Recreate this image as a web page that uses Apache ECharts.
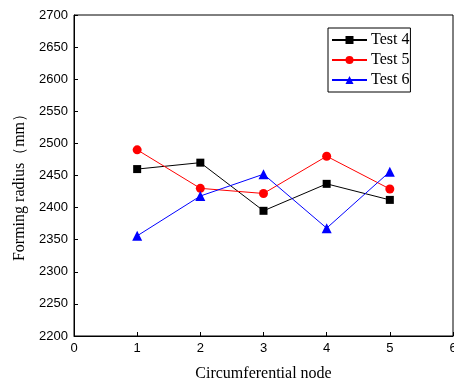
<!DOCTYPE html>
<html>
<head>
<meta charset="utf-8">
<script src="https://cdn.jsdelivr.net/npm/echarts@6/dist/echarts.min.js"></script>
<style>html,body{margin:0;padding:0;background:#fff}#c{width:454px;height:383px}</style>
</head>
<body>
<div id="c"></div>
<script>
const nodes=[1,2,3,4,5];
const test4=[2460,2470,2395,2437,2412];
const test5=[2490,2430,2422,2480,2429];
const test6=[2356,2418,2452,2368,2456];
const SANS="'Liberation Sans',Arial,sans-serif",SERIF="'Liberation Serif','Times New Roman',serif";

const pts=v=>nodes.map((n,i)=>[n,v[i]]);
const chart=echarts.init(document.getElementById('c'));
const axisCommon={axisLine:{show:true,lineStyle:{color:'#000',width:1}},axisTick:{show:true,inside:true,length:4,lineStyle:{color:'#000'}},splitLine:{show:false}};
chart.setOption({
  animation:false,
  grid:{left:74,top:15,width:379,height:321,show:true,borderColor:'#000',borderWidth:1,outerBoundsMode:'none',containLabel:false},
  legend:{orient:'vertical',left:328,top:28,padding:[4,1,4,3],itemGap:4,itemWidth:35,itemHeight:10,
    borderColor:'#000',borderWidth:1,textStyle:{fontFamily:SERIF,fontSize:16,color:'#000',padding:[0,0,0,-1]},
    data:['Test 4','Test 5','Test 6']},
  xAxis:Object.assign({type:'value',min:0,max:6,interval:1,name:'Circumferential node',nameLocation:'middle',nameGap:30,
    nameTextStyle:{fontFamily:SERIF,fontSize:16,color:'#000'},
    axisLabel:{fontFamily:SANS,fontSize:13,color:'#000',margin:6}},axisCommon),
  yAxis:Object.assign({type:'value',min:2200,max:2700,interval:50,name:'Forming radius（mm）',nameLocation:'middle',nameGap:46,
    nameTextStyle:{fontFamily:SERIF,fontSize:16,color:'#000',padding:[0,16,0,0]},
    axisLabel:{fontFamily:SANS,fontSize:13,color:'#000',margin:6,formatter:v=>String(v)}},axisCommon),
  series:[
    {name:'Test 4',type:'line',data:pts(test4),symbol:'rect',symbolSize:8,lineStyle:{color:'#000',width:1},itemStyle:{color:'#000'}},
    {name:'Test 5',type:'line',data:pts(test5),symbol:'circle',symbolSize:9,lineStyle:{color:'#ff0000',width:1},itemStyle:{color:'#ff0000'}},
    {name:'Test 6',type:'line',data:pts(test6),symbol:'triangle',symbolSize:10,lineStyle:{color:'#0000ff',width:1},itemStyle:{color:'#0000ff'}}
  ]
});
</script>
</body>
</html>
